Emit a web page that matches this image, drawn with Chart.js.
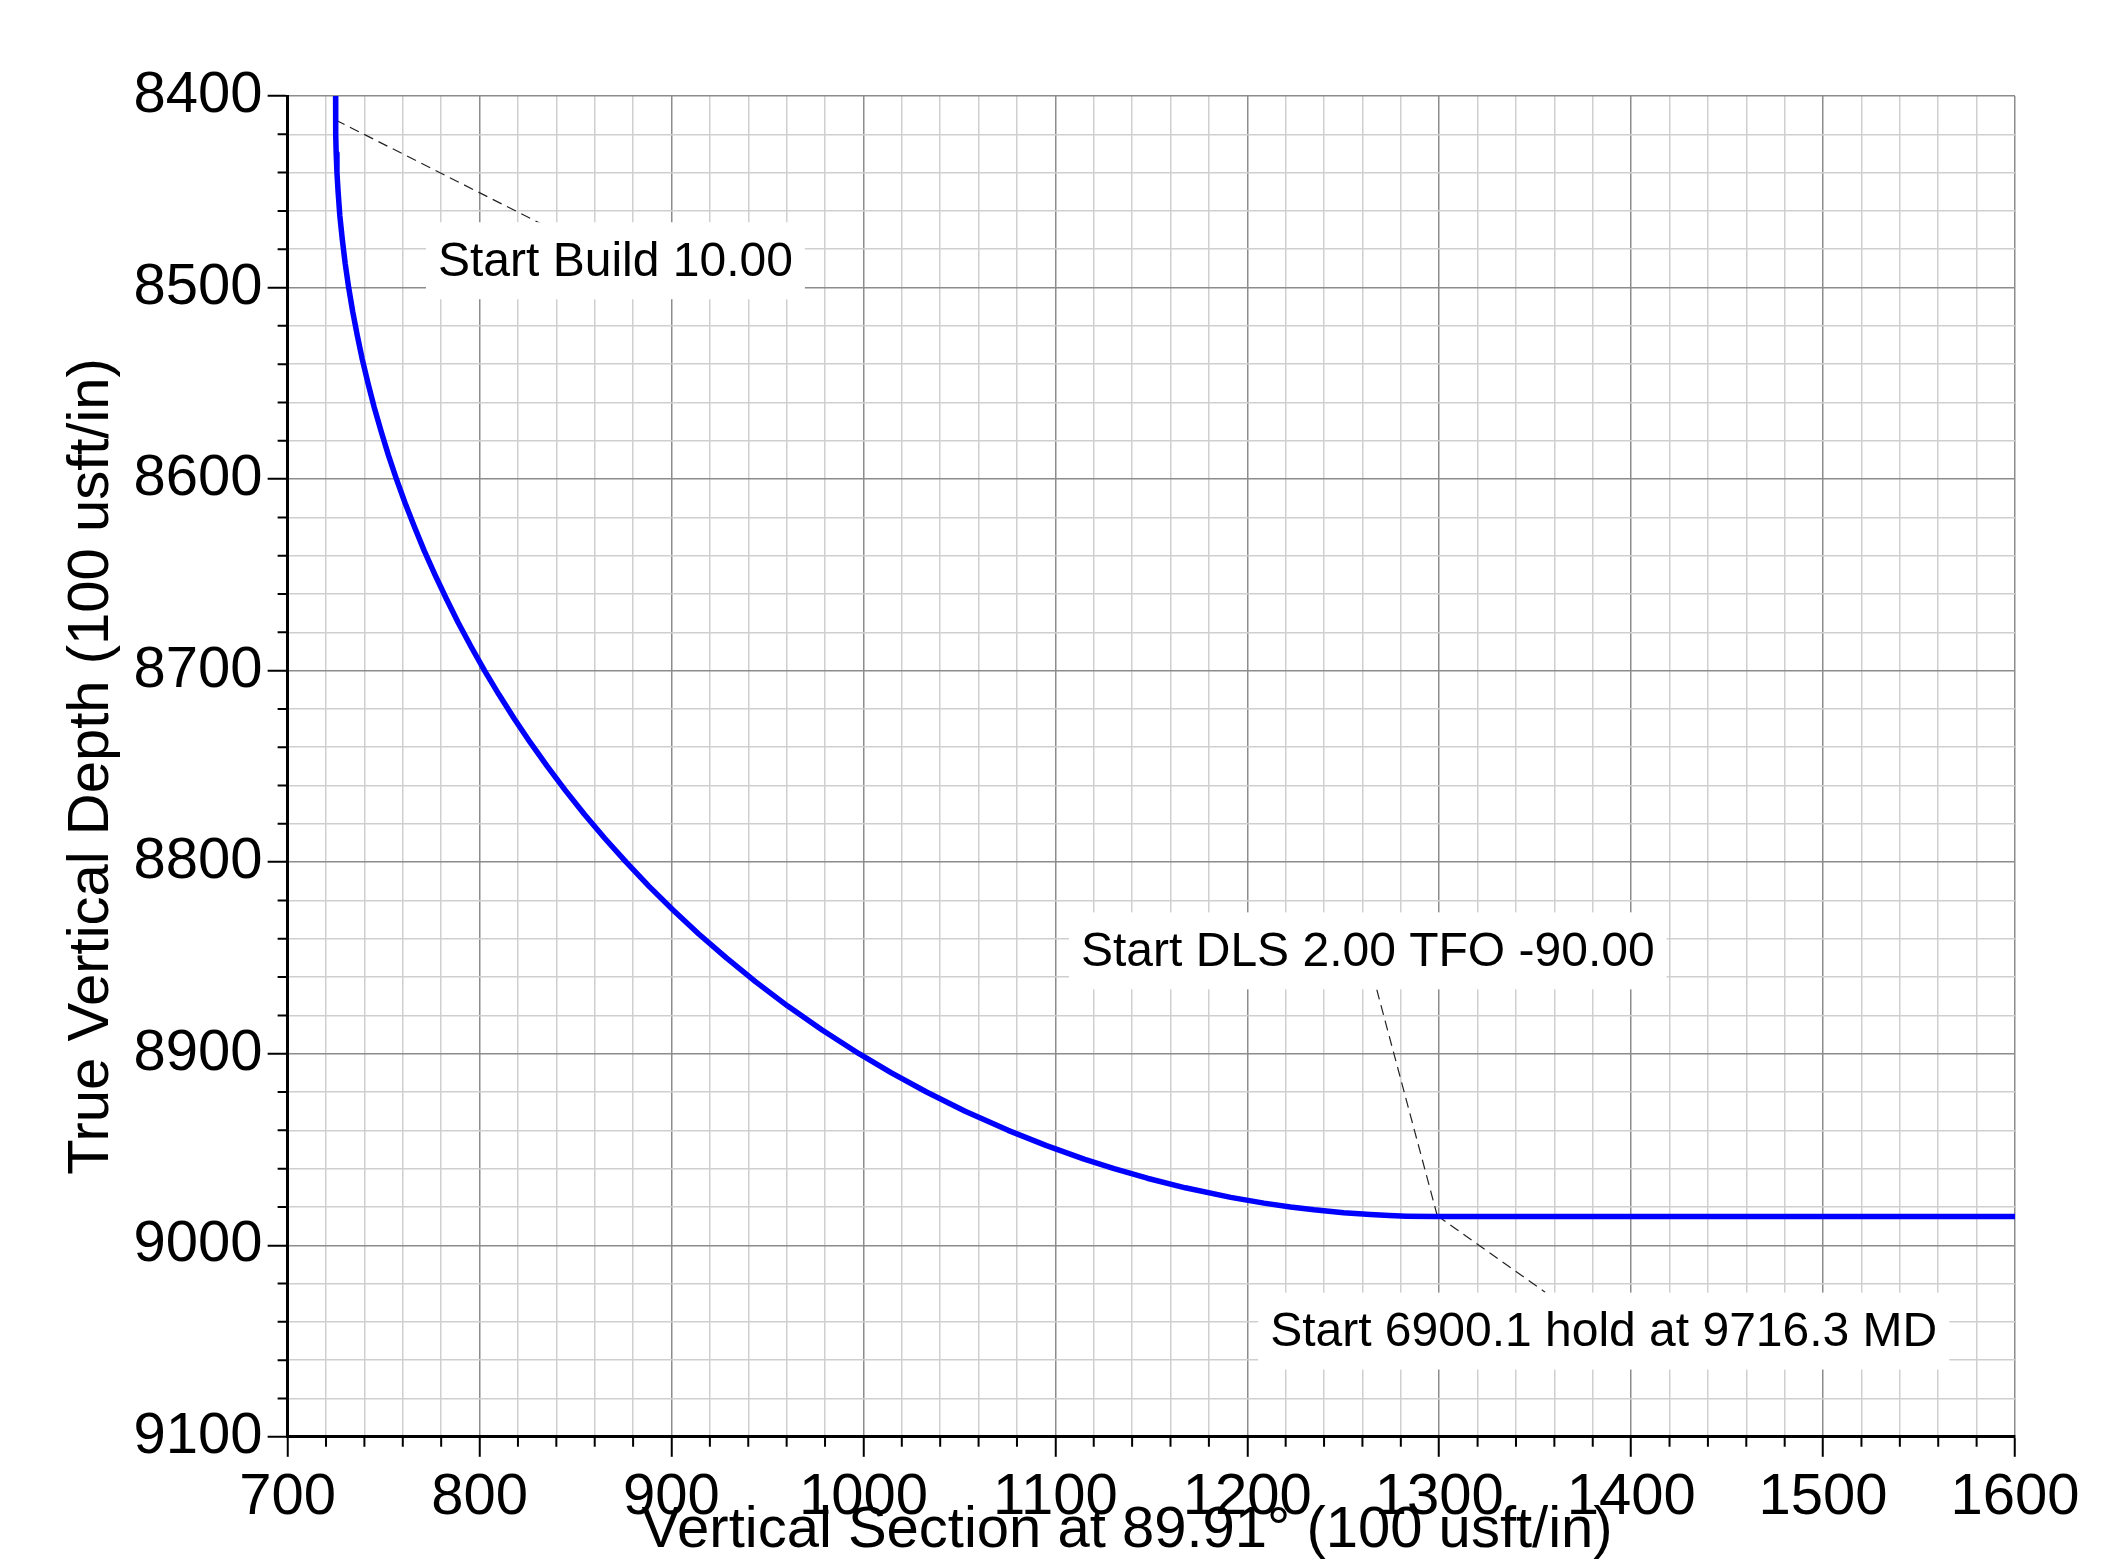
<!DOCTYPE html>
<html><head><meta charset="utf-8">
<script src="https://cdn.jsdelivr.net/npm/chart.js@4.4.1/dist/chart.umd.min.js"></script>
<style>html,body{margin:0;padding:0;background:#fff;} canvas{display:block;}</style>
</head><body>
<canvas id="c" width="2111" height="1567"></canvas>
<script>
// ---- data ----
const vsValues  = [725.0, 725.0, 725.1, 725.3, 725.7, 726.3, 727.2, 728.5, 730.0, 731.8, 733.9, 736.3, 738.9, 741.9, 745.1, 748.7, 752.5, 756.7, 761.2, 766.1, 771.2, 776.8, 782.7, 788.9, 795.6, 802.6, 810.1, 818.0, 826.4, 835.3, 844.7, 854.6, 865.2, 876.4, 888.2, 900.8, 914.2, 928.6, 943.9, 960.4, 978.3, 997.7, 1014.6, 1032.9, 1053.0, 1075.4, 1095.4, 1115.0, 1130.6, 1147.9, 1167.7, 1191.4, 1208.7, 1222.5, 1234.8, 1250.2, 1264.2, 1274.0, 1282.9, 1298.0, 1600.0];
const tvdValues = [8400, 8412, 8420, 8430, 8440, 8450, 8462.5, 8475, 8487.5, 8500, 8512.5, 8525, 8537.5, 8550, 8562.5, 8575, 8587.5, 8600, 8612.5, 8625, 8637.5, 8650, 8662.5, 8675, 8687.5, 8700, 8712.5, 8725, 8737.5, 8750, 8762.5, 8775, 8787.5, 8800, 8812.5, 8825, 8837.5, 8850, 8862.5, 8875, 8887.5, 8900, 8910, 8920, 8930, 8940, 8948, 8955, 8960, 8965, 8970, 8975, 8978, 8980, 8981.5, 8983, 8984, 8984.5, 8984.8, 8985, 8985];
const xTickLabels = [700, 800, 900, 1000, 1100, 1200, 1300, 1400, 1500, 1600];
const yTickLabels = [8400, 8500, 8600, 8700, 8800, 8900, 9000, 9100];
const xAxisTitle = 'Vertical Section at 89.91° (100 usft/in)';
const yAxisTitle = 'True Vertical Depth (100 usft/in)';
const annotationTexts   = ['Start Build 10.00', 'Start DLS 2.00 TFO -90.00', 'Start 6900.1 hold at 9716.3 MD'];
const annotationCurveVS  = [725.0, 1299.0, 1299.0];
const annotationCurveTVD = [8412.5, 8984.6, 8984.6];
const annotationLeadVS   = [831.8, 1267.4, 1355.2];
const annotationLeadTVD  = [8466.6, 8866.3, 9024.5];
const annotationBoxVS    = [870.8, 1262.8, 1385.7];
const annotationBoxTVD   = [8486.0, 8846.3, 9044.8];

const FONT = "'Liberation Sans', Arial, Helvetica, sans-serif";
Chart.defaults.font.family = FONT;
Chart.defaults.color = '#000';

const points = vsValues.map((v, i) => ({x: v, y: tvdValues[i]}));
const isMajor = v => Math.abs(v % 100) < 1e-6;

const minorTicks = {
  id: 'minorTicks',
  afterDraw(chart) {
    const ctx = chart.ctx, xs = chart.scales.x, ys = chart.scales.y, a = chart.chartArea;
    ctx.save();
    ctx.strokeStyle = '#000';
    ctx.lineWidth = 2;
    ctx.beginPath();
    xs.ticks.forEach(t => { if (!isMajor(t.value)) { const p = xs.getPixelForValue(t.value); ctx.moveTo(p, a.bottom); ctx.lineTo(p, a.bottom + 10); } });
    ys.ticks.forEach(t => { if (!isMajor(t.value)) { const p = ys.getPixelForValue(t.value); ctx.moveTo(a.left, p); ctx.lineTo(a.left - 10, p); } });
    ctx.stroke();
    ctx.restore();
  }
};

const annotations = {
  id: 'annotations',
  beforeDatasetsDraw(chart) {
    const ctx = chart.ctx, xs = chart.scales.x, ys = chart.scales.y;
    ctx.save();
    ctx.strokeStyle = '#222';
    ctx.lineWidth = 1.2;
    ctx.setLineDash([10, 6]);
    annotationTexts.forEach((t, i) => {
      ctx.beginPath();
      ctx.moveTo(xs.getPixelForValue(annotationCurveVS[i]), ys.getPixelForValue(annotationCurveTVD[i]));
      ctx.lineTo(xs.getPixelForValue(annotationLeadVS[i]), ys.getPixelForValue(annotationLeadTVD[i]));
      ctx.stroke();
    });
    ctx.setLineDash([]);
    ctx.font = '48px ' + FONT;
    ctx.textBaseline = 'middle';
    ctx.textAlign = 'center';
    annotationTexts.forEach((t, i) => {
      const cx = xs.getPixelForValue(annotationBoxVS[i]);
      const cy = ys.getPixelForValue(annotationBoxTVD[i]);
      const w = ctx.measureText(t).width + 24;
      const h = 77;
      ctx.fillStyle = '#fff';
      ctx.fillRect(cx - w / 2, cy - h / 2, w, h);
      ctx.fillStyle = '#000';
      ctx.fillText(t, cx, cy + 2);
    });
    ctx.restore();
  }
};

new Chart(document.getElementById('c'), {
  type: 'line',
  data: {
    datasets: [{
      data: points,
      borderColor: '#0000ff',
      borderWidth: 5.5,
      borderCapStyle: 'round',
      borderJoinStyle: 'round',
      pointRadius: 0,
      tension: 0,
      fill: false
    }]
  },
  options: {
    responsive: false,
    animation: false,
    devicePixelRatio: 1,
    layout: { padding: { left: 50, right: 96, top: 96, bottom: 1 } },
    plugins: { legend: { display: false }, tooltip: { enabled: false } },
    scales: {
      x: {
        type: 'linear',
        min: 700, max: 1600,
        ticks: {
          stepSize: 20, autoSkip: false, maxRotation: 0, padding: 6,
          font: { size: 58 },
          callback: v => xTickLabels.includes(v) ? String(v) : ''
        },
        grid: {
          color: c => isMajor(c.tick.value) ? '#8c8c8c' : '#cfcfcf',
          lineWidth: 1.5,
          tickColor: c => isMajor(c.tick.value) ? '#000' : 'rgba(0,0,0,0)',
          tickLength: 20,
          tickWidth: 2
        },
        border: { display: true, color: '#000', width: 3 },
        title: { display: true, text: xAxisTitle + '   ', font: { size: 58 }, padding: { top: -42, bottom: 0 } }
      },
      y: {
        type: 'linear',
        reverse: true,
        min: 8400, max: 9100,
        ticks: {
          stepSize: 20, autoSkip: false, padding: 5,
          font: { size: 58 },
          callback: v => yTickLabels.includes(v) ? String(v) : ''
        },
        grid: {
          color: c => isMajor(c.tick.value) ? '#8c8c8c' : '#cfcfcf',
          lineWidth: 1.5,
          tickColor: c => isMajor(c.tick.value) ? '#000' : 'rgba(0,0,0,0)',
          tickLength: 20,
          tickWidth: 2
        },
        border: { display: true, color: '#000', width: 3 },
        title: { display: true, text: yAxisTitle, font: { size: 58 }, padding: { top: 7, bottom: 2 } }
      }
    }
  },
  plugins: [annotations, minorTicks]
});
</script>
</body></html>
